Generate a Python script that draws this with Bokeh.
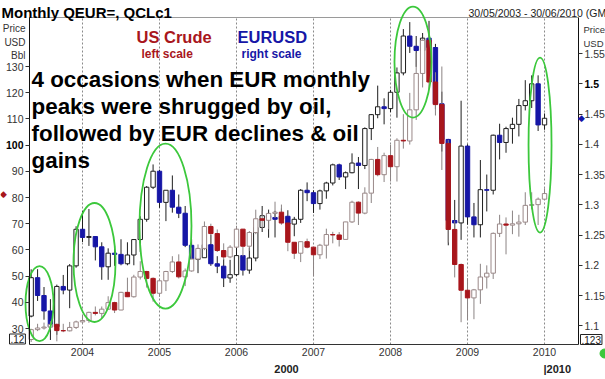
from bokeh.plotting import figure
from bokeh.models import Range1d, LinearAxis, FixedTicker, Label, ColumnDataSource
from bokeh.embed import file_html
from bokeh.resources import INLINE

# ---------------- data ----------------
months = ["2003-05", "2003-06", "2003-07", "2003-08", "2003-09", "2003-10", "2003-11", "2003-12"]
for yr in range(2004, 2010):
    months += ["%d-%02d" % (yr, m) for m in range(1, 13)]
months += ["2010-01"]

crude_open = [25.80, 29.56, 30.19, 30.54, 31.57, 29.20, 29.11, 30.41,
              32.52, 33.05, 36.16, 35.76, 37.38, 39.88, 37.05, 43.80, 42.12, 49.64, 51.76, 49.13,
              43.45, 48.20, 51.75, 55.40, 49.72, 51.97, 56.50, 60.57, 68.94, 66.24, 59.76, 57.32,
              61.04, 67.92, 61.41, 66.63, 71.88, 71.29, 73.93, 74.40, 70.26, 62.91, 58.73, 63.13,
              61.05, 58.14, 61.79, 65.87, 65.71, 64.01, 70.68, 78.21, 74.04, 81.66, 94.53, 88.71,
              95.98, 91.75, 101.84, 101.58, 113.46, 127.35, 140.00, 124.08, 115.46, 100.64, 67.81, 54.43,
              44.60, 41.68, 44.76, 49.66, 51.12, 66.31, 69.89, 69.45, 69.96, 70.61, 77.00, 77.28,
              79.36]
crude_high = [29.90, 31.80, 32.25, 32.80, 31.90, 31.80, 32.50, 33.00,
              35.20, 36.40, 38.40, 38.40, 42.30, 40.20, 44.00, 49.40, 50.50, 55.67, 52.00, 49.50,
              49.00, 52.00, 57.60, 58.30, 52.90, 60.95, 62.10, 70.85, 70.00, 67.80, 62.50, 61.80,
              69.20, 68.00, 67.20, 75.35, 74.75, 73.95, 78.40, 77.30, 70.30, 63.00, 63.20, 64.30,
              61.10, 62.30, 68.10, 66.90, 66.80, 70.70, 78.77, 78.50, 83.90, 94.75, 99.29, 97.10,
              100.09, 102.60, 111.80, 119.93, 135.09, 140.39, 147.27, 127.81, 130.00, 102.00, 71.20, 54.80,
              49.20, 45.10, 54.70, 54.10, 66.65, 73.40, 72.40, 75.00, 73.40, 82.00, 82.00, 80.00,
              83.50]
crude_low = [24.85, 29.00, 29.60, 30.00, 25.10, 28.60, 28.90, 29.80,
             32.20, 32.20, 35.00, 33.80, 37.20, 35.90, 37.00, 42.00, 41.80, 48.70, 45.60, 40.25,
             42.10, 44.30, 51.20, 49.10, 46.20, 51.70, 55.80, 59.90, 62.40, 59.20, 56.25, 56.80,
             60.75, 57.55, 59.65, 66.00, 68.10, 67.90, 72.20, 69.60, 59.50, 56.55, 55.35, 60.60,
             49.90, 56.50, 56.70, 62.50, 61.30, 64.00, 70.30, 69.50, 73.60, 77.90, 88.10, 85.90,
             86.10, 86.10, 98.65, 100.20, 109.60, 122.00, 121.30, 111.30, 90.50, 62.80, 49.50, 32.40,
             33.20, 33.55, 39.40, 45.25, 48.90, 64.90, 58.30, 66.00, 65.05, 69.50, 75.50, 69.50,
             79.00]
crude_close = [29.56, 30.19, 30.54, 31.57, 29.20, 29.11, 30.41, 32.52,
               33.05, 36.16, 35.76, 37.38, 39.88, 37.05, 43.80, 42.12, 49.64, 51.76, 49.13, 43.45,
               48.20, 51.75, 55.40, 49.72, 51.97, 56.50, 60.57, 68.94, 66.24, 59.76, 57.32, 61.04,
               67.92, 61.41, 66.63, 71.88, 71.29, 73.93, 74.40, 70.26, 62.91, 58.73, 63.13, 61.05,
               58.14, 61.79, 65.87, 65.71, 64.01, 70.68, 78.21, 74.04, 81.66, 94.53, 88.71, 95.98,
               91.75, 101.84, 101.58, 113.46, 127.35, 140.00, 124.08, 115.46, 100.64, 67.81, 54.43, 44.60,
               41.68, 44.76, 49.66, 51.12, 66.31, 69.89, 69.45, 69.96, 70.61, 77.00, 77.28, 79.36,
               81.50]

eur_open = [1.1160, 1.1795, 1.1500, 1.1245, 1.0985, 1.1650, 1.1590, 1.1990,
            1.2595, 1.2460, 1.2475, 1.2305, 1.1975, 1.2200, 1.2180, 1.2025, 1.2170, 1.2425, 1.2760, 1.3290,
            1.3555, 1.3040, 1.3240, 1.2960, 1.2860, 1.2330, 1.2100, 1.2125, 1.2340, 1.2025, 1.1985, 1.1790,
            1.1845, 1.2160, 1.1920, 1.2120, 1.2625, 1.2820, 1.2790, 1.2760, 1.2810, 1.2680, 1.2760, 1.3240,
            1.3200, 1.3020, 1.3230, 1.3360, 1.3660, 1.3460, 1.3530, 1.3690, 1.3650, 1.4260, 1.4490, 1.4620,
            1.4590, 1.4860, 1.5180, 1.5790, 1.5620, 1.5550, 1.5755, 1.5600, 1.4670, 1.4080, 1.2740, 1.2700,
            1.3970, 1.2800, 1.2670, 1.3250, 1.3240, 1.4150, 1.4030, 1.4260, 1.4330, 1.4640, 1.4720, 1.5000,
            1.4320]
eur_high = [1.1933, 1.1935, 1.1640, 1.1440, 1.1680, 1.1840, 1.2020, 1.2645,
            1.2900, 1.2930, 1.2480, 1.2380, 1.2280, 1.2320, 1.2430, 1.2380, 1.2430, 1.2810, 1.3310, 1.3667,
            1.3580, 1.3240, 1.3485, 1.3170, 1.2980, 1.2430, 1.2245, 1.2450, 1.2505, 1.2150, 1.2100, 1.2090,
            1.2320, 1.2170, 1.2290, 1.2640, 1.2980, 1.2920, 1.2900, 1.2940, 1.2910, 1.2800, 1.3260, 1.3370,
            1.3240, 1.3250, 1.3380, 1.3680, 1.3680, 1.3550, 1.3850, 1.3790, 1.4280, 1.4500, 1.4970, 1.4760,
            1.4900, 1.5270, 1.5905, 1.6020, 1.5790, 1.5840, 1.6040, 1.5660, 1.4870, 1.4090, 1.3080, 1.4720,
            1.4000, 1.3030, 1.3740, 1.3500, 1.4160, 1.4340, 1.4290, 1.4440, 1.4750, 1.5060, 1.5140, 1.5140,
            1.4510]
eur_low = [1.1140, 1.1410, 1.1100, 1.0765, 1.0850, 1.1520, 1.1290, 1.1960,
           1.2385, 1.2320, 1.2080, 1.1760, 1.1760, 1.1990, 1.2000, 1.2000, 1.2000, 1.2220, 1.2720, 1.3260,
           1.2950, 1.2730, 1.2870, 1.2780, 1.2300, 1.1970, 1.1870, 1.2140, 1.1990, 1.1870, 1.1640, 1.1710,
           1.1820, 1.1830, 1.1860, 1.2065, 1.2550, 1.2455, 1.2460, 1.2710, 1.2620, 1.2480, 1.2700, 1.3060,
           1.2865, 1.2920, 1.3100, 1.3320, 1.3410, 1.3260, 1.3520, 1.3260, 1.3590, 1.4070, 1.4430, 1.4330,
           1.4530, 1.4440, 1.5140, 1.5510, 1.5280, 1.5280, 1.5520, 1.4580, 1.3880, 1.2330, 1.2330, 1.2420,
           1.2670, 1.2460, 1.2460, 1.2890, 1.3170, 1.3750, 1.3860, 1.4010, 1.4130, 1.4560, 1.4600, 1.4220,
           1.4240]
eur_close = [1.1795, 1.1500, 1.1245, 1.0985, 1.1650, 1.1590, 1.1990, 1.2595,
             1.2460, 1.2475, 1.2305, 1.1975, 1.2200, 1.2180, 1.2025, 1.2170, 1.2425, 1.2760, 1.3290, 1.3555,
             1.3040, 1.3240, 1.2960, 1.2860, 1.2330, 1.2100, 1.2125, 1.2340, 1.2025, 1.1985, 1.1790, 1.1845,
             1.2160, 1.1920, 1.2120, 1.2625, 1.2820, 1.2790, 1.2760, 1.2810, 1.2680, 1.2760, 1.3240, 1.3200,
             1.3020, 1.3230, 1.3360, 1.3660, 1.3460, 1.3530, 1.3690, 1.3650, 1.4260, 1.4490, 1.4620, 1.4590,
             1.4860, 1.5180, 1.5790, 1.5620, 1.5550, 1.5755, 1.5600, 1.4670, 1.4080, 1.2740, 1.2700, 1.3970,
             1.2800, 1.2670, 1.3250, 1.3240, 1.4150, 1.4030, 1.4260, 1.4330, 1.4640, 1.4720, 1.5000, 1.4320,
             1.4430]

crude_ticks = [30, 40, 50, 60, 70, 80, 90, 100, 110, 120, 130]
eur_ticks = [1.1, 1.15, 1.2, 1.25, 1.3, 1.35, 1.4, 1.45, 1.5, 1.55]
eur_tick_labels = ["1.1", "1.15", "1.2", "1.25", "1.3", "1.35", "1.4", "1.45", "1.5", "1.55"]
year_labels = ["2004", "2005", "2006", "2007", "2008", "2009", "2010"]

annotation_lines = ["4 occasions when EUR monthly",
                    "peaks were shrugged by oil,",
                    "followed by EUR declines & oil",
                    "gains"]

# ---------------- layout (canvas pixels -> data) ----------------
W, H = 605, 379
X0, DX = 30.67, 6.417          # px of first month, px per month
PY130, PPU = 66.0, 2.62        # crude: px of 130, px per USD
PY15, PPE = 83.3, 604.9        # eurusd: px of 1.5, px per unit

def ix(px):
    return (px - X0) / DX

def cy(py):
    return 130 - (py - PY130) / PPU

def ey(py):
    return 1.5 + (PY15 - py) / PPE

def sx(px):
    return px

def sy(py):
    return H - py

AL, AR, AT, AB = 29, 578, 17, 344   # plot-area edges in canvas px

RED = "#a8161c"
BLUE = "#1616a6"
GREEN = "#3cc83c"
FONT = "Liberation Sans"

idx = list(range(len(months)))
year_ticks = [months.index(y + "-01") for y in year_labels]

p = figure(width=W, height=H, output_backend="svg", toolbar_location=None,
           x_range=Range1d(ix(0), ix(W)), y_range=Range1d(cy(H), cy(0)),
           min_border=0, min_border_left=0, min_border_right=0,
           min_border_top=0, min_border_bottom=0,
           background_fill_color="white", border_fill_color="white")
p.extra_y_ranges = {"eur": Range1d(ey(H), ey(0))}
p.outline_line_color = None
p.xgrid.visible = False
p.ygrid.visible = False

# year grid lines (dashed) inside the plot area
p.segment(x0=year_ticks, x1=year_ticks, y0=[cy(AB)] * len(year_ticks),
          y1=[cy(AT)] * len(year_ticks), line_color="#8a8a8a", line_dash="2 2", line_width=1)
# top border
p.segment(x0=[ix(AL)], x1=[ix(AR)], y0=[cy(AT)], y1=[cy(AT)], line_color="#9a9a9a", line_width=1)

# bottom axis
xa = p.xaxis[0]
xa.fixed_location = cy(AB)
xa.bounds = (ix(AL), ix(AR))
xa.ticker = FixedTicker(ticks=year_ticks)
xa.major_label_overrides = {t: l for t, l in zip(year_ticks, year_labels)}
xa.major_tick_out = 0
xa.major_tick_in = 0
xa.minor_tick_out = 0
xa.minor_tick_in = 0
xa.major_label_standoff = 3
xa.axis_line_color = "#333333"

# left axis (crude)
ya = p.yaxis[0]
ya.fixed_location = ix(AL)
ya.bounds = (cy(AB), cy(AT))
ya.ticker = FixedTicker(ticks=crude_ticks)
ya.major_label_overrides = {100: " "}
ya.minor_tick_out = 0
ya.minor_tick_in = 0
ya.major_tick_in = 0
ya.major_tick_out = 4
ya.major_label_standoff = 2
ya.axis_line_color = "#111111"

# right axis (eurusd)
right = LinearAxis(y_range_name="eur", ticker=FixedTicker(ticks=eur_ticks))
right.fixed_location = ix(AR)
right.bounds = (ey(AB), ey(AT))
right.major_label_overrides = {t: (" " if l == "1.5" else l) for t, l in zip(eur_ticks, eur_tick_labels)}
right.minor_tick_out = 0
right.minor_tick_in = 0
right.major_tick_in = 0
right.major_tick_out = 4
right.major_label_standoff = 2
right.axis_line_color = "#111111"
p.add_layout(right, "right")

for ax in [xa, ya, right]:
    ax.major_label_text_font = FONT
    ax.major_label_text_font_size = "10.5px"
    ax.major_label_text_color = "#333333"
    ax.major_tick_line_color = "#333333"

# ---------------- candles ----------------
def candle_source(o, h, l, c, up_line, down_fill):
    return ColumnDataSource(dict(
        x=idx, high=h, low=l,
        top=[max(a, b) for a, b in zip(o, c)],
        bottom=[min(a, b) for a, b in zip(o, c)],
        fill=["white" if b >= a else down_fill for a, b in zip(o, c)],
        line=[up_line if b >= a else down_fill for a, b in zip(o, c)],
    ))

eur_src = candle_source(eur_open, eur_high, eur_low, eur_close, "#1e1e1e", BLUE)
crude_src = candle_source(crude_open, crude_high, crude_low, crude_close, "#9a8888", RED)

p.segment(x0="x", y0="low", x1="x", y1="high", source=eur_src, line_color="#1e1e1e",
          line_width=1, y_range_name="eur")
p.vbar(x="x", width=0.68, top="top", bottom="bottom", source=eur_src,
       fill_color="fill", line_color="line", line_width=1, y_range_name="eur")

p.segment(x0="x", y0="low", x1="x", y1="high", source=crude_src, line_color="#8c8484",
          line_width=1)
p.vbar(x="x", width=0.68, top="top", bottom="bottom", source=crude_src,
       fill_color="fill", line_color="line", line_width=1)

# ---------------- green ellipses (month index, crude value, px size) ----------------
ell_x = [1.3, 9.87, 20.93, 59.5, 79.3]
ell_y = [39.5, 55.2, 69.1, 131.7, 100.0]
ell_w = [28, 42, 52, 37, 23]
ell_h = [75, 119, 165, 111, 175]
p.ellipse(x=ell_x, y=ell_y, width=ell_w, height=ell_h, width_units="screen",
          height_units="screen", fill_alpha=0, line_color=GREEN, line_width=1.8)

# small green marker at the bottom-right corner
p.scatter(x=[ix(604)], y=[cy(353)], size=9, marker="circle", fill_color=GREEN,
          line_color=GREEN)

# ---------------- texts ----------------
def txt(text, px, py, size, color="black", bold=False, align="left", baseline="alphabetic",
        font=FONT, **kw):
    p.add_layout(Label(x=sx(px), y=sy(py), x_units="screen", y_units="screen", text=text,
                       text_font=font, text_font_size=size, text_color=color,
                       text_font_style="bold" if bold else "normal",
                       text_align=align, text_baseline=baseline, **kw))

txt("Monthly QEUR=, QCLc1", 1, 11.5, "15px", bold=True)
txt("30/05/2003 - 30/06/2010 (GMT)", 468, 12, "10.5px", color="#222222")
for t, b in zip(["Price", "USD", "Bbl"], [27.5, 41.5, 55]):
    txt(t, 25, b, "10px", color="#333333", align="right")
for t, b in zip(["Price", "USD"], [29, 43]):
    txt(t, 583, b, "9.5px", color="#333333")

txt("US Crude", 136, 36, "16.5px", color=RED, bold=True)
txt("left scale", 141, 53, "12px", color=RED, bold=True)
txt("EURUSD", 237, 36, "16.5px", color=BLUE, bold=True)
txt("right scale", 241, 53, "12px", color=BLUE, bold=True)

for i, line in enumerate(annotation_lines):
    txt(line, 31, 79 + 27 * i, "22.4px", bold=True)

txt("2000", 286, 368, "11px", bold=True, align="center", color="#222222")
txt("|2010", 543, 368, "11px", bold=True, color="#222222")

# bold tick labels
p.add_layout(Label(x=sx(AL - 6), y=100, x_units="screen", y_units="data", text="100",
                   text_font=FONT, text_font_size="10.5px", text_font_style="bold",
                   text_color="black", text_align="right", text_baseline="middle"))
p.add_layout(Label(x=sx(AR + 6), y=1.5, x_units="screen", y_units="data", y_range_name="eur",
                   text="1.5", text_font=FONT, text_font_size="10.5px", text_font_style="bold",
                   text_color="black", text_align="left", text_baseline="middle"))

# last-price diamonds
p.add_layout(Label(x=sx(3), y=crude_close[-1], x_units="screen", y_units="data", text="\u25c6",
                   text_font="DejaVu Sans", text_font_size="9px", text_color=RED,
                   text_align="center", text_baseline="middle"))
p.add_layout(Label(x=sx(581), y=eur_close[-1], x_units="screen", y_units="data",
                   y_range_name="eur", text="\u25c6",
                   text_font="DejaVu Sans", text_font_size="9px", text_color=BLUE,
                   text_align="center", text_baseline="middle"))

# scale boxes
txt(".12", 9, 338.5, "10px", color="#222222", baseline="middle",
    border_line_color="#222222", background_fill_color="white", padding=1)
txt(".123", 580, 339, "10px", color="#222222", baseline="middle",
    border_line_color="#222222", background_fill_color="white", padding=1)

open("out.html", "w").write(file_html(p, INLINE))
